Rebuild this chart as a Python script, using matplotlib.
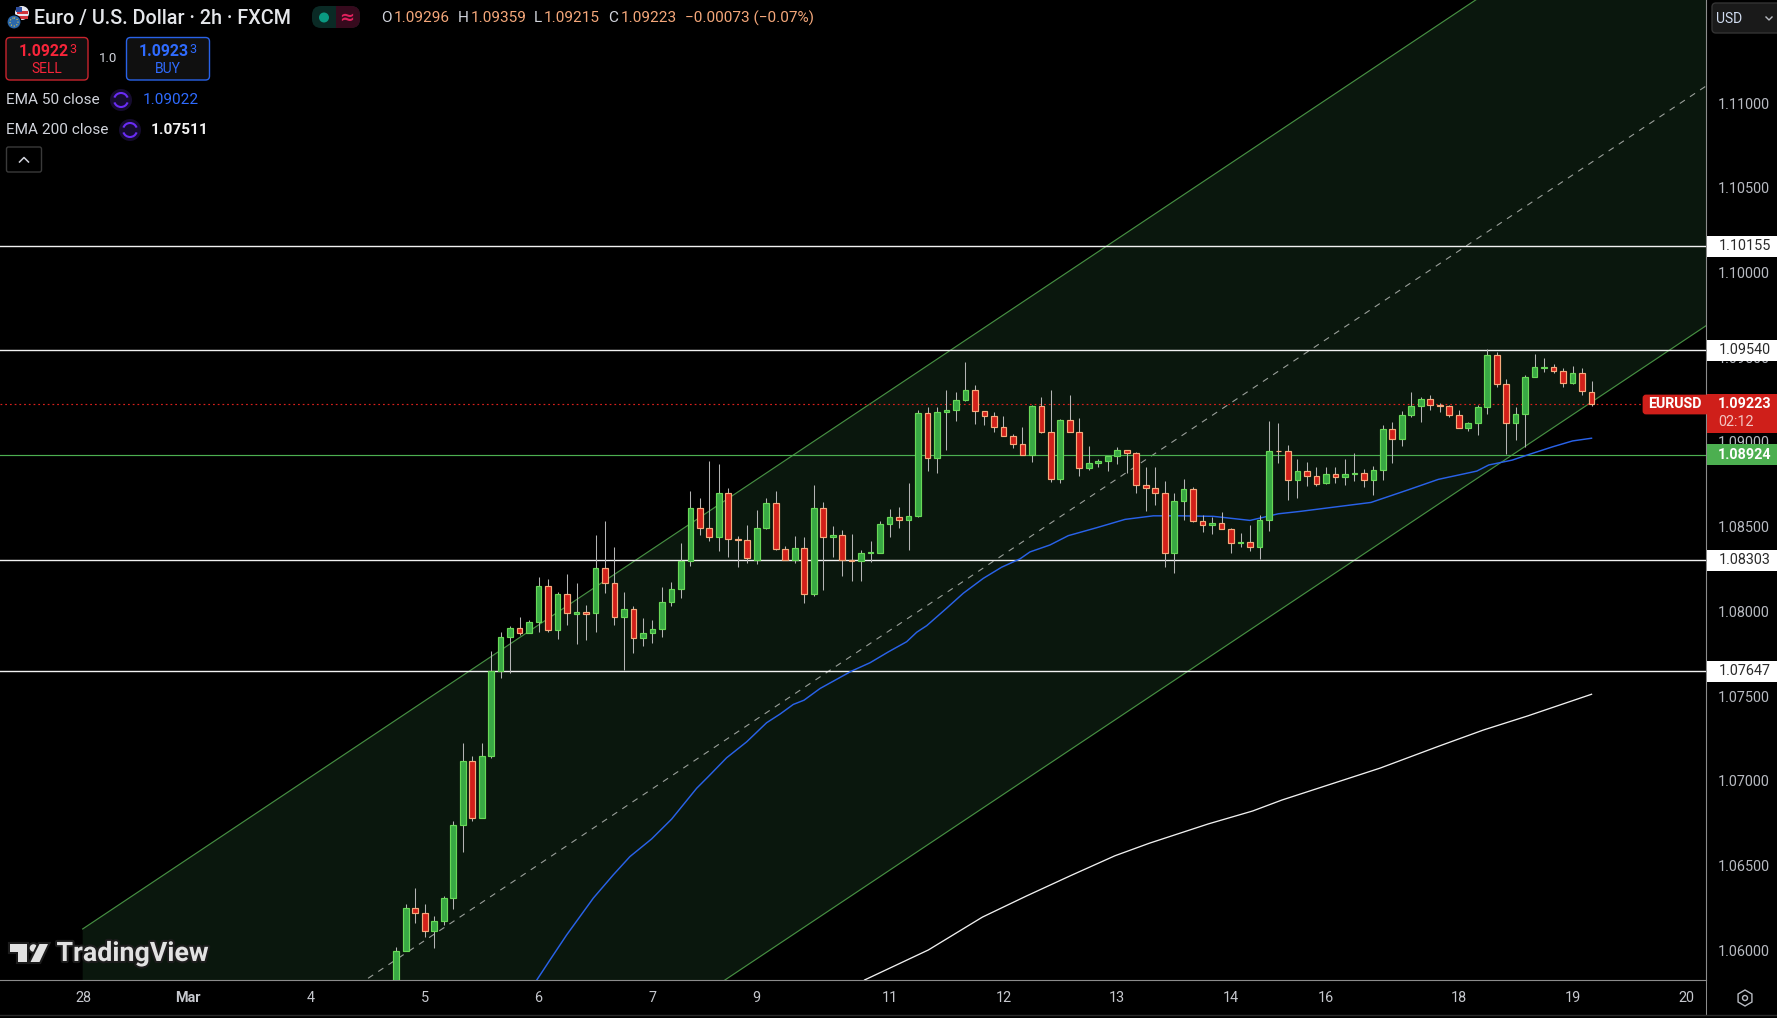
import numpy as np
import matplotlib
matplotlib.use("Agg")
import matplotlib.pyplot as plt
from matplotlib.patches import Rectangle, FancyBboxPatch, Circle, Arc, Polygon, RegularPolygon
from matplotlib.transforms import blended_transform_factory
import matplotlib.patheffects as pe

plt.rcParams['font.family'] = ['Roboto', 'DejaVu Sans']

# candles, 2h EURUSD
open_p = [1.05708, 1.05998, 1.06249, 1.06222, 1.06116, 1.06175, 1.06306, 1.06738, 1.07115, 1.06778,
          1.07148, 1.07646, 1.07848, 1.07901, 1.07870, 1.07936, 1.08148, 1.07893, 1.08101, 1.07987,
          1.07995, 1.07989, 1.08255, 1.08166, 1.07966, 1.08013, 1.07842, 1.07872, 1.07895, 1.08054,
          1.08131, 1.08296, 1.08612, 1.08494, 1.08441, 1.08700, 1.08429, 1.08423, 1.08306, 1.08494,
          1.08641, 1.08371, 1.08306, 1.08377, 1.08100, 1.08612, 1.08441, 1.08453, 1.08306, 1.08300,
          1.08345, 1.08347, 1.08518, 1.08559, 1.08541, 1.08565, 1.09170, 1.08906, 1.09176, 1.09188,
          1.09247, 1.09306, 1.09182, 1.09153, 1.09088, 1.09035, 1.08988, 1.08923, 1.09212, 1.09059,
          1.08782, 1.09129, 1.09059, 1.08847, 1.08876, 1.08888, 1.08918, 1.08953, 1.08935, 1.08747,
          1.08729, 1.08700, 1.08347, 1.08653, 1.08723, 1.08535, 1.08512, 1.08523, 1.08488, 1.08406,
          1.08412, 1.08382, 1.08541, 1.08949, 1.08947, 1.08777, 1.08829, 1.08800, 1.08757, 1.08812,
          1.08794, 1.08812, 1.08818, 1.08777, 1.08835, 1.09077, 1.09018, 1.09159, 1.09212, 1.09253,
          1.09218, 1.09212, 1.09159, 1.09082, 1.09112, 1.09206, 1.09512, 1.09341, 1.09112, 1.09165,
          1.09382, 1.09439, 1.09441, 1.09418, 1.09347, 1.09406, 1.09296]
high_p = [1.06017, 1.06272, 1.06367, 1.06272, 1.06202, 1.06318, 1.06762, 1.07221, 1.07144, 1.07221,
          1.07764, 1.07878, 1.07911, 1.07968, 1.07948, 1.08201, 1.08189, 1.08113, 1.08219, 1.08166,
          1.08036, 1.08449, 1.08532, 1.08379, 1.08113, 1.08031, 1.07960, 1.07948, 1.08142, 1.08172,
          1.08402, 1.08712, 1.08671, 1.08888, 1.08870, 1.08729, 1.08447, 1.08511, 1.08600, 1.08671,
          1.08712, 1.08388, 1.08447, 1.08441, 1.08747, 1.08647, 1.08506, 1.08483, 1.08459, 1.08365,
          1.08418, 1.08535, 1.08606, 1.08618, 1.08759, 1.09188, 1.09206, 1.09206, 1.09306, 1.09294,
          1.09470, 1.09335, 1.09185, 1.09176, 1.09155, 1.09047, 1.09088, 1.09218, 1.09265, 1.09306,
          1.09135, 1.09276, 1.09141, 1.08976, 1.08900, 1.08918, 1.08970, 1.08955, 1.08940, 1.08853,
          1.08853, 1.08770, 1.08700, 1.08782, 1.08735, 1.08570, 1.08559, 1.08588, 1.08494, 1.08465,
          1.08512, 1.08570, 1.09123, 1.09112, 1.08982, 1.08900, 1.08884, 1.08855, 1.08855, 1.08855,
          1.08900, 1.08935, 1.08841, 1.08859, 1.09100, 1.09118, 1.09182, 1.09294, 1.09265, 1.09277,
          1.09229, 1.09216, 1.09188, 1.09118, 1.09216, 1.09547, 1.09529, 1.09371, 1.09206, 1.09394,
          1.09518, 1.09494, 1.09459, 1.09435, 1.09447, 1.09435, 1.09359]
low_p = [1.05688, 1.05993, 1.06163, 1.06080, 1.06016, 1.06149, 1.06241, 1.06582, 1.06766, 1.06778,
         1.07136, 1.07609, 1.07638, 1.07858, 1.07870, 1.07876, 1.07881, 1.07840, 1.07917, 1.07805,
         1.07829, 1.07881, 1.08111, 1.07917, 1.07656, 1.07752, 1.07793, 1.07811, 1.07846, 1.08029,
         1.08081, 1.08269, 1.08449, 1.08414, 1.08357, 1.08321, 1.08263, 1.08286, 1.08280, 1.08488,
         1.08363, 1.08306, 1.08286, 1.08051, 1.08092, 1.08128, 1.08321, 1.08210, 1.08181, 1.08181,
         1.08292, 1.08347, 1.08439, 1.08490, 1.08363, 1.08557, 1.08827, 1.08816, 1.08951, 1.09121,
         1.09241, 1.09104, 1.09098, 1.09057, 1.09035, 1.08963, 1.08923, 1.08880, 1.09051, 1.08763,
         1.08757, 1.09059, 1.08798, 1.08833, 1.08851, 1.08827, 1.08868, 1.08818, 1.08698, 1.08592,
         1.08627, 1.08263, 1.08227, 1.08539, 1.08527, 1.08468, 1.08457, 1.08488, 1.08345, 1.08380,
         1.08357, 1.08308, 1.08474, 1.08874, 1.08657, 1.08669, 1.08739, 1.08739, 1.08753, 1.08757,
         1.08743, 1.08769, 1.08737, 1.08686, 1.08777, 1.08877, 1.08975, 1.09145, 1.09116, 1.09186,
         1.09178, 1.09149, 1.09082, 1.09063, 1.09039, 1.09165, 1.09324, 1.08929, 1.09014, 1.08971,
         1.09382, 1.09414, 1.09404, 1.09322, 1.09341, 1.09280, 1.09215]
close_p = [1.05998, 1.06249, 1.06222, 1.06116, 1.06175, 1.06306, 1.06738, 1.07115, 1.06778, 1.07148,
           1.07646, 1.07848, 1.07901, 1.07870, 1.07936, 1.08148, 1.07893, 1.08101, 1.07989, 1.07995,
           1.07987, 1.08255, 1.08166, 1.07966, 1.08013, 1.07842, 1.07872, 1.07895, 1.08054, 1.08131,
           1.08296, 1.08612, 1.08494, 1.08441, 1.08700, 1.08429, 1.08423, 1.08317, 1.08494, 1.08641,
           1.08371, 1.08306, 1.08377, 1.08100, 1.08612, 1.08441, 1.08453, 1.08306, 1.08300, 1.08347,
           1.08349, 1.08518, 1.08559, 1.08541, 1.08565, 1.09170, 1.08906, 1.09176, 1.09188, 1.09247,
           1.09306, 1.09182, 1.09153, 1.09088, 1.09035, 1.08988, 1.08923, 1.09212, 1.09059, 1.08782,
           1.09129, 1.09059, 1.08847, 1.08876, 1.08888, 1.08918, 1.08953, 1.08935, 1.08747, 1.08729,
           1.08700, 1.08347, 1.08653, 1.08723, 1.08535, 1.08512, 1.08523, 1.08488, 1.08406, 1.08412,
           1.08382, 1.08541, 1.08947, 1.08945, 1.08776, 1.08829, 1.08800, 1.08753, 1.08812, 1.08794,
           1.08812, 1.08818, 1.08777, 1.08835, 1.09077, 1.09018, 1.09159, 1.09212, 1.09253, 1.09218,
           1.09212, 1.09159, 1.09082, 1.09112, 1.09206, 1.09512, 1.09341, 1.09112, 1.09165, 1.09382,
           1.09441, 1.09443, 1.09418, 1.09347, 1.09406, 1.09300, 1.09223]

# moving averages, bar number and price
ema50_bar = [14.79, 16.2, 17.95, 20.77, 22.87, 24.63, 26.91, 29.02, 31.66, 32.89, 34.82, 36.93, 39.04,
             40.45, 41.85, 42.98, 44.67, 48.0, 49.94, 51.87, 53.8, 54.86, 55.92, 58.02, 59.77, 61.88,
             63.82, 65.75, 66.8, 68.91, 70.84, 73.84, 76.82, 79.8, 82.62, 86.13, 90.0, 92.98, 95.26,
             102.75, 106.65, 109.84, 113.9, 115.16, 117.64, 119.4, 121.88, 124.0, 126]
ema50_val = [1.05823, 1.05943, 1.06090, 1.06308, 1.06445, 1.06553, 1.06657, 1.06774, 1.06956, 1.07025,
             1.07136, 1.07230, 1.07343, 1.07394, 1.07451, 1.07476, 1.07545, 1.07648, 1.07697, 1.07761,
             1.07821, 1.07877, 1.07916, 1.08019, 1.08107, 1.08195, 1.08261, 1.08310, 1.08351, 1.08392,
             1.08447, 1.08494, 1.08543, 1.08564, 1.08564, 1.08561, 1.08537, 1.08576, 1.08590, 1.08643,
             1.08717, 1.08779, 1.08828, 1.08864, 1.08893, 1.08926, 1.08971, 1.09006, 1.09022]
ema200_bar = [49.37, 56.09, 61.79, 66.45, 71.1, 75.76, 79.39, 85.61, 90.27, 93.37, 98.54, 103.7,
              109.92, 114.6, 119.26, 126]
ema200_val = [1.05825, 1.06002, 1.06196, 1.06321, 1.06441, 1.06558, 1.06632, 1.06746, 1.06822, 1.06887,
              1.06981, 1.07075, 1.07205, 1.07300, 1.07383, 1.07511]

# channel ends
channel_bar = [-33.06, 138.07]
channel_up = [1.06126, 1.12515]
channel_low = [1.03297, 1.09686]

white_levels = [1.10155, 1.09540, 1.08303, 1.07647]
green_level = 1.08924
last_price = 1.09223

price_ticks = [1.06, 1.065, 1.07, 1.075, 1.08, 1.085, 1.09, 1.095, 1.10, 1.105, 1.11]
date_bars = [-33, -22, -9, 3, 15, 27, 38, 52, 64, 76, 88, 98, 112, 124, 136]
date_labels = ["28", "Mar", "4", "5", "6", "7", "9", "11", "12", "13", "14", "16", "18", "19", "20"]

W, H = 1777, 1018
BAR0, STEP = 396.3, 9.486
fig = plt.figure(figsize=(W / 100, H / 100), dpi=100, facecolor="black")
ax = fig.add_axes([0, (H - 980) / H, 1706 / W, 980 / H], facecolor="black")
ax.set_xlim(-BAR0 / STEP, (1706 - BAR0) / STEP)
ax.set_ylim(1.10 - (980 - 272.5) / 16945, 1.10 + 272.5 / 16945)

o = np.array(open_p); h = np.array(high_p); l = np.array(low_p); c = np.array(close_p)
bars = np.arange(len(o))
up = c >= o

# channel
ax.fill_between(channel_bar, channel_low, channel_up, color="#0a170d", lw=0, zorder=1)
ax.plot(channel_bar, channel_up, color="#468f42", lw=0.85, zorder=2)
ax.plot(channel_bar, channel_low, color="#468f42", lw=0.85, zorder=2)
ax.plot(channel_bar, (np.array(channel_up) + np.array(channel_low)) / 2, color="#9a9f9a", lw=0.8,
        linestyle=(0, (5.5, 5.5)), zorder=2)

for lev in white_levels:
    ax.axhline(lev, color="#f2f2f2", lw=1.0, zorder=3)
ax.axhline(green_level, color="#4caf50", lw=0.85, zorder=3)
ax.axhline(last_price, color="#d8201c", lw=0.85, linestyle=(0, (1.5, 2.5)), zorder=3)

ax.plot(ema50_bar, ema50_val, color="#2962e8", lw=1.05, zorder=4)
ax.plot(ema200_bar, ema200_val, color="#f0f0f0", lw=0.95, zorder=4)

# candles
ax.vlines(bars, l, h, color="#b4b4b4", lw=0.75, zorder=5)
ax.bar(bars[up], (c - o)[up], bottom=o[up], width=0.6, color="#38a844", edgecolor="#68d858", lw=0.85, zorder=6)
ax.bar(bars[~up], (c - o)[~up], bottom=o[~up], width=0.6, color="#d2201a", edgecolor="#f7aa7c", lw=0.85, zorder=6)

# axes look
for s in ["top", "left"]:
    ax.spines[s].set_visible(False)
ax.spines["bottom"].set_color("#8c8c8c")
ax.spines["right"].set_color("#8c8c8c")
ax.yaxis.tick_right()
ax.set_yticks(price_ticks, [f"{p:.5f}" for p in price_ticks])
ax.set_xticks(date_bars, date_labels)
ax.tick_params(axis="y", length=0, pad=8.5, labelsize=10.4, labelcolor="#b8bbc2")
ax.tick_params(axis="x", length=0, pad=7.8, labelsize=10.4, labelcolor="#c6c8ce")
ax.get_xticklabels()[1].set_fontweight("bold")

# everything around the plot, in screen pixels
ov = fig.add_axes([0, 0, 1, 1], facecolor="none", zorder=10)
ov.set_xlim(0, W); ov.set_ylim(H, 0); ov.axis("off")
price_tr = blended_transform_factory(ov.transData, ax.transData)

ov.plot([1706, 1706], [980, 1014], color="#8c8c8c", lw=0.75)
ov.plot([0, W], [1014.5, 1014.5], color="#2b2b2b", lw=1.0)


def price_box(y, txt, bg, fg, weight="normal"):
    ov.add_patch(Rectangle((1706.5, y - 0.00062), 71, 0.00124, transform=price_tr, fc=bg, ec="none"))
    ov.text(1744.5, y, txt, transform=price_tr, color=fg, fontsize=10.4, ha="center", va="center", fontweight=weight)


for lev in white_levels:
    price_box(lev, f"{lev:.5f}", "white", "#2a2a2a")
price_box(green_level, f"{green_level:.5f}", "#4caf50", "white", "bold")

# last price label
ov.add_patch(Rectangle((1706.5, 394), 71, 38.7, fc="#cf1f1a", ec="none"))
ov.add_patch(FancyBboxPatch((1644, 396), 64, 17, boxstyle="round,pad=0,rounding_size=2", fc="#cf1f1a", ec="#cf1f1a", lw=2))
ov.text(1675, 404.5, "EURUSD", color="white", fontsize=10.2, ha="center", va="center", fontweight="bold")
ov.text(1744.5, 404.5, f"{last_price:.5f}", color="white", fontsize=10.4, ha="center", va="center", fontweight="bold")
ov.text(1736, 422, "02:12", color="#f3c4c0", fontsize=10.4, ha="center", va="center")

# gear
ov.add_patch(RegularPolygon((1745, 998), 6, radius=8, fc="none", ec="#b8bbc2", lw=1))
ov.add_patch(Circle((1745, 998), 2.5, fc="none", ec="#b8bbc2", lw=1))

# title line
ov.add_patch(Circle((22, 13), 7, fc="#e8e8f0", ec="none"))
ov.add_patch(Rectangle((17, 11), 11, 2.5, fc="#d0323a", ec="none"))
ov.add_patch(Rectangle((17, 16), 11, 2.5, fc="#d0323a", ec="none"))
ov.add_patch(Rectangle((16, 7), 6, 5, fc="#2f4f9f", ec="none"))
ov.add_patch(Circle((14, 22), 7, fc="#2b68ab", ec="black", lw=0.8))
ov.add_patch(Circle((14, 22), 4, fc="none", ec="#e8c840", lw=0.8, linestyle=":"))
ov.text(33.5, 18, "Euro / U.S. Dollar · 2h · FXCM", color="#e4e6ea", fontsize=14.2, ha="left", va="center", fontweight="medium")

ov.add_patch(FancyBboxPatch((312, 6), 48, 22, boxstyle="round,pad=0,rounding_size=9", fc="#0a2a25", ec="none"))
ov.add_patch(Rectangle((336, 6), 14, 22, fc="#360a1d", ec="none"))
ov.add_patch(FancyBboxPatch((338, 6), 22, 22, boxstyle="round,pad=0,rounding_size=9", fc="#360a1d", ec="none"))
ov.add_patch(Circle((324, 17.5), 5, fc="#0a9981", ec="none"))
ov.text(347, 17.5, "≈", color="#e0205c", fontsize=13, ha="center", va="center", fontweight="bold", family="DejaVu Sans")

orange = "#f4a77a"
for x, t, col in [(381.6, "O", "#d1d4dc"), (394, "1.09296", orange), (458, "H", "#d1d4dc"), (470.5, "1.09359", orange),
                  (534, "L", "#d1d4dc"), (543.6, "1.09215", orange), (608, "C", "#d1d4dc"), (620.6, "1.09223", orange),
                  (684.6, "−0.00073 (−0.07%)", orange)]:
    ov.text(x, 18, t, color=col, fontsize=11.1, ha="left", va="center")

# sell / buy buttons
ov.add_patch(FancyBboxPatch((6, 37.5), 82, 42.5, boxstyle="round,pad=0,rounding_size=4", fc="#101010", ec="#c8242e", lw=1))
ov.add_patch(FancyBboxPatch((126.5, 37.5), 83, 42.5, boxstyle="round,pad=0,rounding_size=4", fc="#101010", ec="#2962e8", lw=1))
ov.text(69, 51, "1.0922", color="#f7253a", fontsize=11.4, ha="right", va="center", fontweight="bold")
ov.text(69.5, 49, "3", color="#f7253a", fontsize=9, ha="left", va="center")
ov.text(46.5, 68.5, "SELL", color="#f7253a", fontsize=10, ha="center", va="center")
ov.text(188.5, 51, "1.0923", color="#2f6bff", fontsize=11.4, ha="right", va="center", fontweight="bold")
ov.text(189, 49, "3", color="#2f6bff", fontsize=9, ha="left", va="center")
ov.text(168, 68.5, "BUY", color="#2f6bff", fontsize=10, ha="center", va="center")
ov.text(108, 58, "1.0", color="#d1d4dc", fontsize=9.5, ha="center", va="center")


def refresh_icon(x, y):
    ov.add_patch(Circle((x, y), 11, fc="#160c30", ec="none"))
    ov.add_patch(Arc((x, y), 14, 14, theta1=200, theta2=340, color="#6a2cf5", lw=1.5))
    ov.add_patch(Arc((x, y), 14, 14, theta1=20, theta2=160, color="#6a2cf5", lw=1.5))


ov.text(5.5, 100, "EMA 50 close", color="#d1d4dc", fontsize=11.1, ha="left", va="center")
refresh_icon(121, 100)
ov.text(143, 100, "1.09022", color="#2f6bff", fontsize=11.1, ha="left", va="center")
ov.text(5.5, 130, "EMA 200 close", color="#d1d4dc", fontsize=11.1, ha="left", va="center")
refresh_icon(130, 130)
ov.text(151, 130, "1.07511", color="#f2f2f2", fontsize=11.1, ha="left", va="center", fontweight="bold")

ov.add_patch(FancyBboxPatch((6.5, 147), 35, 25, boxstyle="round,pad=0,rounding_size=2", fc="black", ec="#3a3a3a", lw=1))
ov.plot([19.5, 24, 28.5], [162, 157.5, 162], color="#d1d4dc", lw=1.1)

# currency drop down
ov.add_patch(FancyBboxPatch((1712, 3), 70, 30, boxstyle="round,pad=0,rounding_size=4", fc="#1a1a1a", ec="#333333", lw=1))
ov.text(1716, 18.5, "USD", color="#d1dcf0", fontsize=10, ha="left", va="center")
ov.plot([1766, 1769, 1772], [17, 20, 17], color="#b8bbc2", lw=1)

# logo
logo_fx = [pe.withStroke(linewidth=3, foreground="#1c1c1c")]
ov.add_patch(Polygon([(10, 944), (27, 944), (27, 962), (18, 962), (18, 952), (10, 952)], fc="#e2e2e2", ec="none", path_effects=logo_fx))
ov.add_patch(Circle((33.5, 948), 3.8, fc="#e2e2e2", ec="none", path_effects=logo_fx))
ov.add_patch(Polygon([(39.5, 944), (48, 944), (39.5, 962), (30.5, 962)], fc="#e2e2e2", ec="none", path_effects=logo_fx))
ov.text(56.5, 953.5, "TradingView", color="#e2e2e2", fontsize=19.3, ha="left", va="center", fontweight="semibold", path_effects=logo_fx)

fig.savefig("out.png", dpi=100, facecolor="black")
